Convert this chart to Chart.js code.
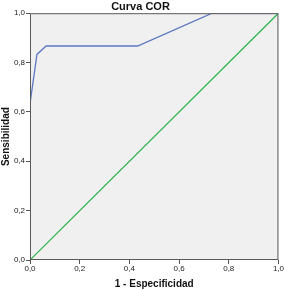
<!DOCTYPE html>
<html>
<head>
<meta charset="utf-8">
<script src="https://cdn.jsdelivr.net/npm/chart.js@4"></script>
<style>
  html, body { margin: 0; padding: 0; background: #fff; }
  #wrap { width: 284px; height: 290px; }
</style>
</head>
<body>
<div id="wrap"><canvas id="roc" width="284" height="290"></canvas></div>
<script>
const ROC_X = [0, 0, 0.028, 0.065, 0.433, 0.733, 1];
const ROC_Y = [0, 0.633, 0.833, 0.867, 0.867, 1, 1];
const REF_X = [0, 1];
const REF_Y = [0, 1];
const TICKS = [0, 0.2, 0.4, 0.6, 0.8, 1.0];

const fmt = v => v.toFixed(1).replace('.', ',');

// plot background + frame
const framePlugin = {
  id: 'frame',
  beforeDraw(chart) {
    const { ctx, chartArea: a } = chart;
    ctx.save();
    ctx.fillStyle = '#f0f0f0';
    ctx.fillRect(a.left, a.top, a.right - a.left, a.bottom - a.top);
    ctx.restore();
  },
  afterDraw(chart) {
    const { ctx, chartArea: a } = chart;
    ctx.save();
    ctx.strokeStyle = '#5a5a5a';
    ctx.lineWidth = 1;
    ctx.strokeRect(a.left + 0.5, a.top + 0.5, a.right - a.left - 1, a.bottom - a.top - 1);
    ctx.restore();
  }
};

new Chart(document.getElementById('roc'), {
  type: 'scatter',
  data: {
    datasets: [
      {
        data: ROC_X.map((x, i) => ({ x, y: ROC_Y[i] })),
        showLine: true, borderColor: '#5b78c0', borderWidth: 1.3,
        pointRadius: 0, fill: false
      },
      {
        data: REF_X.map((x, i) => ({ x, y: REF_Y[i] })),
        showLine: true, borderColor: '#27b24a', borderWidth: 1.2,
        pointRadius: 0, fill: false
      }
    ]
  },
  options: {
    responsive: false,
    animation: false,
    layout: { padding: { top: 0, right: 3, bottom: 0, left: 0 } },
    plugins: {
      legend: { display: false },
      tooltip: { enabled: false },
      title: {
        display: true, text: 'Curva COR', color: '#111',
        font: { family: 'Liberation Sans', size: 11, weight: 'bold' },
        padding: { top: 0, bottom: 0 }
      }
    },
    scales: {
      x: {
        type: 'linear', min: 0, max: 1,
        afterBuildTicks: s => { s.ticks = TICKS.map(v => ({ value: v })); },
        afterFit: s => { s.height = 30; },
        ticks: { callback: fmt, color: '#222', padding: 0, maxRotation: 0,
          font: { family: 'Liberation Sans', size: 8 } },
        grid: { drawOnChartArea: false, drawTicks: true, tickLength: 4, color: '#555' },
        border: { display: false },
        title: { display: true, text: '1 - Especificidad', color: '#111', padding: { top: 3, bottom: 0 },
          font: { family: 'Liberation Sans', size: 10, weight: 'bold' } }
      },
      y: {
        type: 'linear', min: 0, max: 1,
        afterBuildTicks: s => { s.ticks = TICKS.map(v => ({ value: v })); },
        afterFit: s => { s.width = 30; },
        ticks: { callback: fmt, color: '#222', padding: 1,
          font: { family: 'Liberation Sans', size: 8 } },
        grid: { drawOnChartArea: false, drawTicks: true, tickLength: 4, color: '#555' },
        border: { display: false },
        title: { display: true, text: 'Sensibilidad', color: '#111', padding: { top: 0, bottom: 0 },
          font: { family: 'Liberation Sans', size: 10, weight: 'bold' } }
      }
    }
  },
  plugins: [framePlugin]
});
</script>
</body>
</html>
